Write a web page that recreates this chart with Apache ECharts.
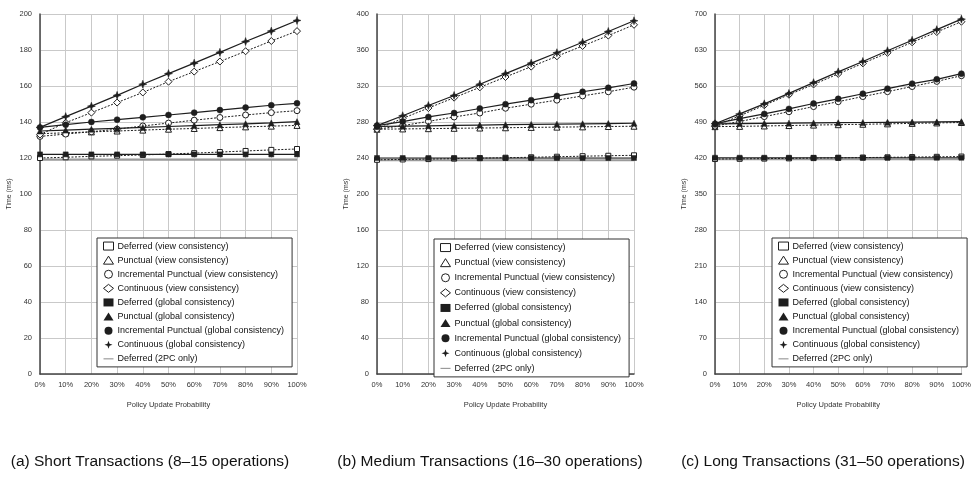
<!DOCTYPE html>
<html>
<head>
<meta charset="utf-8">
<script src="https://cdn.jsdelivr.net/npm/echarts@6/dist/echarts.min.js"></script>
<style>
  html, body { margin: 0; padding: 0; background: #fff; }
  #chart { width: 974px; height: 492px; }
</style>
</head>
<body>
<div id="chart"></div>
<script>
// ---- Data ----
const categories = ['0%', '10%', '20%', '30%', '40%', '50%', '60%', '70%', '80%', '90%', '100%'];

const seriesNames = [
  'Deferred (view consistency)',
  'Punctual (view consistency)',
  'Incremental Punctual (view consistency)',
  'Continuous (view consistency)',
  'Deferred (global consistency)',
  'Punctual (global consistency)',
  'Incremental Punctual (global consistency)',
  'Continuous (global consistency)',
  'Deferred (2PC only)'
];

const captions = [
  '(a) Short Transactions (8\u201315 operations)',
  '(b) Medium Transactions (16\u201330 operations)',
  '(c) Long Transactions (31\u201350 operations)'
];

const yAxisName = 'Time (ms)';
const xAxisName = 'Policy Update Probability';

const yMax = [200, 400, 700];
const yStep = [20, 40, 70];

// (a) Short
const aDeferredView   = [120, 120.4, 120.9, 121.3, 121.7, 122.2, 122.7, 123.3, 123.9, 124.5, 125];
const aPunctualView   = [133.5, 134, 134.5, 135, 135.5, 136, 136.4, 136.9, 137.3, 137.7, 138.1];
const aIncrView       = [132, 133.3, 134.6, 136, 137.8, 139.4, 141, 142.5, 143.9, 145.2, 146.3];
const aContView       = [133, 139.6, 145.2, 150.8, 156.4, 162.4, 168, 173.6, 179.3, 185, 190.5];
const aDeferredGlobal = [122, 122, 122, 122, 122, 122, 122, 122, 122, 122, 122];
const aPunctualGlobal = [135, 135.5, 136, 136.5, 137, 137.5, 138, 138.5, 139, 139.5, 140.2];
const aIncrGlobal     = [137, 138.5, 140, 141.3, 142.6, 143.9, 145.2, 146.6, 148, 149.3, 150.4];
const aContGlobal     = [137, 143, 148.8, 154.8, 161, 166.9, 172.7, 178.7, 184.7, 190.5, 196.4];
const a2PC            = [119, 119, 119, 119, 119, 119, 119, 119, 119, 119, 119];

// (b) Medium
const bDeferredView   = [238, 238.4, 238.8, 239.3, 239.8, 240.3, 240.8, 241.4, 242, 242.5, 243];
const bPunctualView   = [272, 272.3, 272.6, 273, 273.3, 273.6, 274, 274.3, 274.6, 275, 275.3];
const bIncrView       = [272, 276, 280.7, 285.6, 290, 295.3, 299.8, 304.3, 309, 313.6, 318.7];
const bContView       = [272, 284, 295.5, 307, 318.5, 330, 341.5, 353, 364.5, 376, 388];
const bDeferredGlobal = [240, 240, 240, 240, 240, 240, 240, 240, 240, 240, 240];
const bPunctualGlobal = [275, 275.4, 275.8, 276.2, 276.6, 277, 277.3, 277.6, 278, 278.3, 278.6];
const bIncrGlobal     = [276, 280.5, 285.6, 290, 295, 299.8, 304.3, 309, 313.6, 318, 322.8];
const bContGlobal     = [276, 287, 298.3, 309.5, 321.9, 333.8, 345.4, 357, 368.6, 380.6, 392.5];
const b2PC            = [237.5, 237.5, 237.5, 237.5, 237.5, 237.5, 237.5, 237.5, 237.5, 237.5, 237.5];

// (c) Long
const cDeferredView   = [418, 418.4, 418.8, 419.3, 419.8, 420.3, 420.8, 421.3, 421.8, 422.3, 422.8];
const cPunctualView   = [481, 481.5, 482.3, 483.1, 484, 484.8, 485.6, 486.4, 487.3, 488.2, 489];
const cIncrView       = [482, 491, 500.5, 510, 520, 529.5, 539.5, 549, 559, 569, 580];
const cContView       = [482, 502, 522.5, 543, 563, 583.5, 604, 624.5, 645, 665, 685];
const cDeferredGlobal = [420.5, 420.5, 420.5, 420.5, 420.5, 420.5, 420.5, 420.5, 420.5, 420.5, 420.5];
const cPunctualGlobal = [486.5, 487, 487.4, 487.8, 488.2, 488.6, 489, 489.4, 489.8, 490.2, 490.6];
const cIncrGlobal     = [486.7, 496.5, 505.7, 515.5, 525.9, 535, 545, 554.8, 564.6, 573, 584];
const cContGlobal     = [486.7, 505.7, 525.3, 545.6, 566.5, 587.5, 607.7, 628.6, 649, 669.6, 690];
const c2PC            = [417.5, 417.5, 417.5, 417.5, 417.5, 417.5, 417.5, 417.5, 417.5, 417.5, 417.5];

const panels = [
  [aDeferredView, aPunctualView, aIncrView, aContView, aDeferredGlobal, aPunctualGlobal, aIncrGlobal, aContGlobal, a2PC],
  [bDeferredView, bPunctualView, bIncrView, bContView, bDeferredGlobal, bPunctualGlobal, bIncrGlobal, bContGlobal, b2PC],
  [cDeferredView, cPunctualView, cIncrView, cContView, cDeferredGlobal, cPunctualGlobal, cIncrGlobal, cContGlobal, c2PC]
];

// ---- Styles ----
const FONT = '"Liberation Sans", Arial, sans-serif';
const DARK = '#1e1e1e';
const starPath = 'path://M5,0 L6.3,3.7 L10,5 L6.3,6.3 L5,10 L3.7,6.3 L0,5 L3.7,3.7 Z';
const linePath = 'path://M0,0 H12 V1.2 H0 Z';
const seriesStyle = [
  { symbol: 'rect',     size: 5, open: true,  dotted: true },
  { symbol: 'triangle', size: 6, open: true,  dotted: true },
  { symbol: 'circle',   size: 6, open: true,  dotted: true },
  { symbol: 'diamond',  size: 7, open: true,  dotted: true },
  { symbol: 'rect',     size: 5, open: false, dotted: false },
  { symbol: 'triangle', size: 6, open: false, dotted: false },
  { symbol: 'circle',   size: 6, open: false, dotted: false },
  { symbol: starPath,   size: 8, open: false, dotted: false },
  { symbol: 'none',     size: 0, open: false, dotted: false, gray: true }
];

const grids = [
  { left: 40,  top: 14, width: 257, height: 360 },
  { left: 377, top: 14, width: 257, height: 360 },
  { left: 715, top: 14, width: 258, height: 360 }
];
const legendPos = [
  { left: 97,  top: 238, lh: 14.1 },
  { left: 434, top: 239, lh: 15.1 },
  { left: 772, top: 238, lh: 14.1 }
];
const captionX = [150, 490, 823];

const xAxes = [], yAxes = [], series = [], legends = [], graphics = [];

for (let p = 0; p < 3; p++) {
  xAxes.push({
    type: 'category', gridIndex: p, data: categories, boundaryGap: false,
    name: xAxisName, nameLocation: 'middle', nameGap: 27,
    nameTextStyle: { fontFamily: FONT, fontSize: 7.5, color: '#333' },
    axisLine: { lineStyle: { color: '#444', width: 1.5 } },
    axisTick: { show: false },
    axisLabel: { fontFamily: FONT, fontSize: 7.5, color: '#333', margin: 7, interval: 0, hideOverlap: false },
    splitLine: { show: true, interval: 0, lineStyle: { color: '#c9c9c9', width: 1 } }
  });
  yAxes.push({
    type: 'value', gridIndex: p, min: 0, max: yMax[p], interval: yStep[p],
    name: yAxisName, nameLocation: 'middle', nameGap: 27,
    nameTextStyle: { fontFamily: FONT, fontSize: 7, color: '#333' },
    axisLine: { show: true, lineStyle: { color: '#444', width: 1.5 } },
    axisTick: { show: false },
    axisLabel: { fontFamily: FONT, fontSize: 7.5, color: '#333', margin: 8 },
    splitLine: { show: true, lineStyle: { color: '#c9c9c9', width: 1 } }
  });
  for (let s = 0; s < 9; s++) {
    const st = seriesStyle[s];
    series.push({
      type: 'line', name: seriesNames[s], xAxisIndex: p, yAxisIndex: p,
      data: panels[p][s],
      symbol: st.symbol, symbolSize: st.size, showSymbol: st.symbol !== 'none',
      z: st.gray ? 1 : (st.open ? 3 : 4),
      itemStyle: st.gray ? { color: '#9a9a9a' } :
        (st.open ? { color: '#ffffff', borderColor: DARK, borderWidth: 1 } : { color: DARK, borderColor: DARK, borderWidth: 0.5 }),
      lineStyle: st.gray ? { color: '#9a9a9a', width: 1.8 } :
        { color: DARK, width: st.dotted ? 1 : 1.2, type: st.dotted ? [2, 1.5] : 'solid' },
      emphasis: { disabled: true },
      animation: false
    });
  }
  legends.push({
    orient: 'vertical', left: legendPos[p].left, top: legendPos[p].top,
    backgroundColor: '#fff', borderColor: '#333', borderWidth: 1,
    padding: [1, 8, 1, 6], itemGap: 0, itemWidth: 10, itemHeight: 8,
    selectedMode: false,
    textStyle: { fontFamily: FONT, fontSize: 9, color: '#111', lineHeight: legendPos[p].lh, padding: [0, 0, 0, -1] },
    data: seriesNames.map((n, i) => {
      const st = seriesStyle[i];
      if (st.gray) return { name: n, icon: linePath, itemStyle: { color: '#888', borderWidth: 0 } };
      return {
        name: n, icon: st.symbol,
        itemStyle: st.open ? { color: '#fff', borderColor: DARK, borderWidth: 1 } : { color: DARK, borderWidth: 0 }
      };
    })
  });
  graphics.push({
    type: 'text', x: captionX[p], y: 462,
    style: { text: captions[p], font: '15.5px ' + FONT, fill: '#111', textAlign: 'center', textVerticalAlign: 'middle' }
  });
}

const chart = echarts.init(document.getElementById('chart'), null, { renderer: 'canvas' });
chart.setOption({
  animation: false,
  backgroundColor: '#ffffff',
  grid: grids,
  xAxis: xAxes,
  yAxis: yAxes,
  legend: legends,
  series: series,
  graphic: graphics
});
</script>
</body>
</html>
